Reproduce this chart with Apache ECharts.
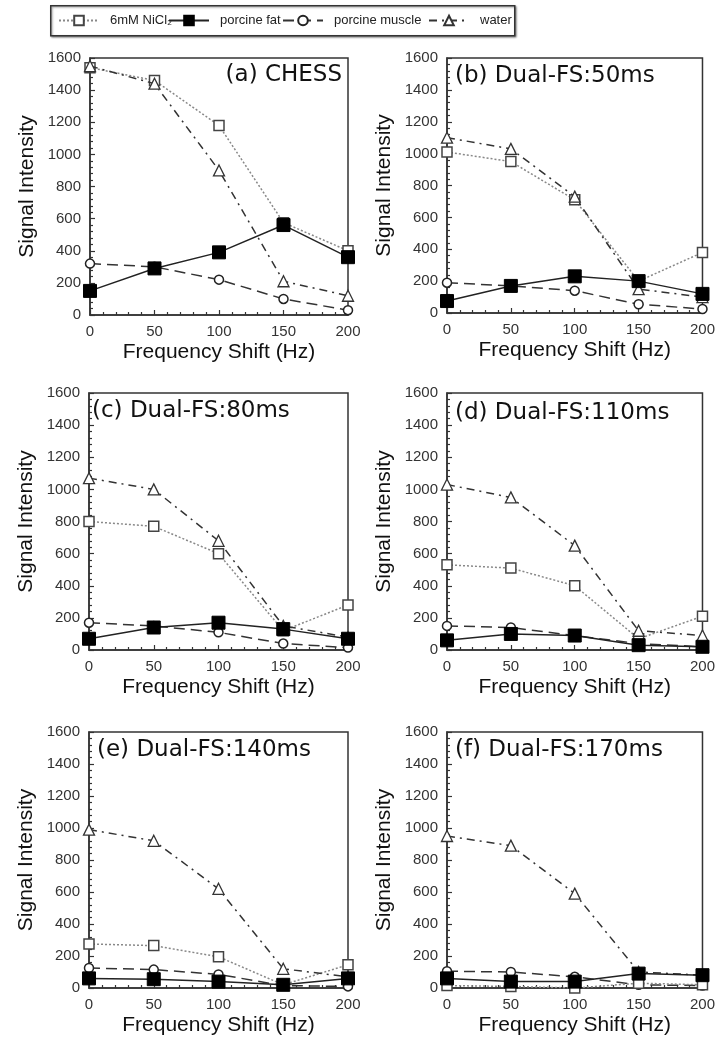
<!DOCTYPE html>
<html>
<head>
<meta charset="utf-8">
<script src="https://cdn.jsdelivr.net/npm/echarts@6/dist/echarts.min.js"></script>
<style>html,body{margin:0;padding:0;background:#fff}#c{width:718px;height:1044px}</style>
</head>
<body>
<div id="c"></div>
<script>
// ---- data ----
const freqShift = [0, 50, 100, 150, 200];
const panelTitles = ['(a) CHESS', '(b) Dual-FS:50ms', '(c) Dual-FS:80ms', '(d) Dual-FS:110ms', '(e) Dual-FS:140ms', '(f) Dual-FS:170ms'];
const seriesNames = ['6mM NiCl₂', 'porcine fat', 'porcine muscle', 'water'];
const nicl2 = [
  [1540, 1460, 1180, 575, 400],
  [1010, 950, 710, 200, 380],
  [800, 770, 600, 120, 280],
  [530, 510, 400, 70, 210],
  [275, 265, 195, 20, 145],
  [15, 10, 0, 30, 20]
];
const fat = [
  [150, 290, 390, 560, 360],
  [75, 170, 230, 200, 120],
  [70, 140, 170, 130, 70],
  [60, 100, 90, 30, 20],
  [60, 55, 40, 20, 60],
  [60, 40, 40, 90, 80]
];
const muscle = [
  [320, 300, 220, 100, 30],
  [190, 170, 140, 55, 25],
  [170, 150, 110, 40, 15],
  [150, 140, 90, 40, 20],
  [125, 115, 85, 15, 10],
  [105, 100, 70, 20, 15]
];
const water = [
  [1550, 1440, 900, 210, 120],
  [1100, 1030, 730, 150, 100],
  [1070, 1000, 680, 150, 80],
  [1030, 950, 650, 120, 90],
  [990, 920, 620, 120, 70],
  [950, 890, 590, 100, 80]
];
const yTicks = [0, 1600, 200]; // min, max, interval
const xTicks = [0, 200, 50];

// ---- layout ----
const grids = [
  {left: 90, top: 58, width: 258, height: 257},
  {left: 447, top: 58, width: 259, height: 255},
  {left: 89, top: 393, width: 259, height: 257},
  {left: 447, top: 393, width: 259, height: 257},
  {left: 89, top: 732, width: 259, height: 256},
  {left: 447, top: 732, width: 259, height: 256}
];
const titlePos = [
  {right: 376, top: 64},
  {left: 455, top: 65},
  {left: 92, top: 400},
  {left: 455, top: 402},
  {left: 97, top: 739},
  {left: 455, top: 739}
];

const axisColor = '#333';
const styles = [
  {symbol: 'rect', symbolSize: 10, line: {color: '#888', width: 1.5, type: [2, 2]}, item: {color: '#fff', borderColor: '#444', borderWidth: 1.5}, z: 3},
  {symbol: 'rect', symbolSize: 13, line: {color: '#222', width: 1.5, type: 'solid'}, item: {color: '#000', borderColor: '#000', borderWidth: 1}, z: 5},
  {symbol: 'circle', symbolSize: 9, line: {color: '#333', width: 1.5, type: [11, 6]}, item: {color: '#fff', borderColor: '#222', borderWidth: 1.5}, z: 2},
  {symbol: 'triangle', symbolSize: 11, line: {color: '#333', width: 1.5, type: [8, 5, 2, 5]}, item: {color: '#fff', borderColor: '#333', borderWidth: 1.3}, z: 4}
];
const allData = [nicl2, fat, muscle, water];

const xAxes = [], yAxes = [], series = [], titles = [];
grids.forEach((g, i) => {
  xAxes.push({
    type: 'value', gridIndex: i, min: xTicks[0], max: xTicks[1], interval: xTicks[2],
    name: 'Frequency Shift (Hz)', nameLocation: 'middle', nameGap: 27,
    nameTextStyle: {fontFamily: 'Liberation Sans', fontSize: 21, color: '#111'},
    axisLine: {show: true, lineStyle: {color: axisColor, width: 1.5}},
    axisTick: {show: true, inside: true, length: 5, lineStyle: {color: axisColor, width: 1.2}},
    minorTick: {show: true, splitNumber: 5, length: 3, lineStyle: {color: axisColor, width: 1.2}},
    axisLabel: {fontFamily: 'Liberation Sans', fontSize: 15, color: '#333', margin: 9, formatter: v => String(v)},
    splitLine: {show: false}
  });
  yAxes.push({
    type: 'value', gridIndex: i, min: yTicks[0], max: yTicks[1], interval: yTicks[2],
    name: 'Signal Intensity', nameLocation: 'middle', nameGap: 52,
    nameTextStyle: {fontFamily: 'Liberation Sans', fontSize: 21, color: '#111'},
    axisLine: {show: true, lineStyle: {color: axisColor, width: 1.5}},
    axisTick: {show: true, inside: true, length: 5, lineStyle: {color: axisColor, width: 1.2}},
    minorTick: {show: true, splitNumber: 5, length: 3, lineStyle: {color: axisColor, width: 1.2}},
    axisLabel: {fontFamily: 'Liberation Sans', fontSize: 15, color: '#333', margin: 9, formatter: v => String(v)},
    splitLine: {show: false}
  });
  titles.push(Object.assign({
    text: panelTitles[i], padding: 0,
    textStyle: {fontFamily: 'DejaVu Sans', fontSize: 23, fontWeight: 'normal', color: '#111'}
  }, titlePos[i]));
  allData.forEach((arr, s) => {
    const st = styles[s];
    series.push({
      type: 'line', name: seriesNames[s], xAxisIndex: i, yAxisIndex: i,
      data: freqShift.map((x, k) => [x, arr[i][k]]),
      symbol: st.symbol, symbolSize: st.symbolSize, showAllSymbol: true,
      lineStyle: st.line, itemStyle: st.item, z: st.z,
      animation: false, silent: true
    });
  });
});

const legendLefts = [58, 168, 282, 428];
const legends = seriesNames.map((n, k) => ({
  data: [n], left: legendLefts[k], top: 14, itemWidth: 40, itemHeight: 12, itemGap: 0,
  padding: 0, selectedMode: false,
  textStyle: {fontFamily: 'Liberation Sans Narrow, Liberation Sans', fontSize: 13, color: '#222', padding: [0, 0, 0, 6]}
}));

const grid = grids.map(g => Object.assign({show: true, borderColor: '#333', borderWidth: 1.5, backgroundColor: 'transparent'}, g));

const chart = echarts.init(document.getElementById('c'), null, {renderer: 'canvas'});
chart.setOption({
  backgroundColor: '#fff',
  animation: false,
  title: titles,
  legend: legends,
  grid: grid,
  xAxis: xAxes,
  yAxis: yAxes,
  series: series,
  graphic: [{
    type: 'rect', left: 50, top: 5, z: -1,
    shape: {width: 464, height: 30},
    style: {fill: '#fff', stroke: '#333', lineWidth: 1.5, shadowBlur: 2, shadowOffsetX: 1, shadowOffsetY: 1, shadowColor: 'rgba(0,0,0,0.4)'}
  }]
});
</script>
</body>
</html>
